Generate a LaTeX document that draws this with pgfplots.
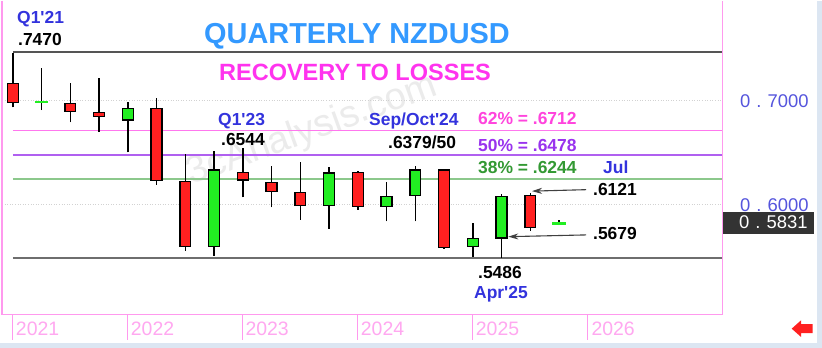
\documentclass[border=0pt]{standalone}
\usepackage{pgfplots}
\pgfplotsset{compat=1.18}
\usetikzlibrary{arrows.meta}
\usepackage{fontspec}
\setmainfont{Liberation Sans}
\definecolor{candred}{HTML}{FF2020}
\definecolor{candgreen}{HTML}{22EE22}
\definecolor{pinkax}{HTML}{FF99EE}
\definecolor{yearpink}{HTML}{FFA8F0}
\definecolor{titleblue}{HTML}{3399FF}
\definecolor{recmag}{HTML}{FF33EE}
\definecolor{lblblue}{HTML}{3333DD}
\definecolor{fibA}{HTML}{FF44DD}
\definecolor{fibB}{HTML}{9933EE}
\definecolor{fibC}{HTML}{339933}
\definecolor{lineA}{HTML}{FF77EE}
\definecolor{lineB}{HTML}{B060F0}
\definecolor{lineC}{HTML}{8CC88C}
\definecolor{darkline}{HTML}{555555}
\definecolor{axblue}{HTML}{5555DD}
\definecolor{stripblue}{HTML}{DCE6F2}
\newcommand{\lbl}{\fontsize{17.5}{20}\selectfont\bfseries}
\newcommand{\axl}{\fontsize{18.5}{20}\selectfont}
\newcommand{\yrl}{\fontsize{19.5}{21}\selectfont}
\newcommand{\q}{\textquotesingle}
\newcommand{\dt}{\hspace{6bp}.\hspace{6bp}}
\begin{document}
\begin{tikzpicture}
\begin{scope}[x=1bp,y=1bp]
\useasboundingbox (0,0) rectangle (822,347);
\fill[white] (0,0) rectangle (822,347);
\fill[stripblue] (817,0) rectangle (822,347);
\fill[stripblue] (0,0) rectangle (822,5);
\node[rotate=20, text=gray!16, font=\fontsize{38}{40}\selectfont] at (312,217) {3cAnalysis.com};
\end{scope}
\begin{axis}[
  at={(2bp,33bp)}, anchor=south west, scale only axis,
  width=720.5bp, height=314bp,
  xmin=-0.3757, xmax=24.685, ymin=0.494231, ymax=0.796154,
  axis line style={draw=none}, xtick=\empty, ytick=\empty, clip=false,
  wick/.style={black, line width=1.4bp},
  body/.style={draw=black, line width=1.4bp, line join=miter},
]
% reference lines
\addplot[gray!35, dotted, line width=0.6bp] coordinates {(-0.3757,0.70) (24.685,0.70)};
\addplot[gray!35, dotted, line width=0.6bp] coordinates {(-0.3757,0.60) (24.685,0.60)};
\addplot[darkline, line width=2.2bp] coordinates {(0,0.7470) (24.685,0.7470)};
\addplot[lineA, line width=1.4bp] coordinates {(0,0.6712) (24.685,0.6712)};
\addplot[lineB, line width=1.4bp] coordinates {(0,0.6478) (24.685,0.6478)};
\addplot[lineC, line width=1.6bp] coordinates {(0,0.6244) (24.685,0.6244)};
\addplot[darkline!85, line width=2bp] coordinates {(0,0.5486) (24.685,0.5486)};
% wicks (quarter index, low, high)
\addplot[wick] coordinates {(0,0.6936) (0,0.7462)};
\addplot[wick] coordinates {(1,0.6910) (1,0.7310)};
\addplot[wick] coordinates {(2,0.6790) (2,0.7170)};
\addplot[wick] coordinates {(3,0.6702) (3,0.7218)};
\addplot[wick] coordinates {(4,0.6503) (4,0.6990)};
\addplot[wick] coordinates {(5,0.6192) (5,0.7022)};
\addplot[wick] coordinates {(6,0.5558) (6,0.6487)};
\addplot[wick] coordinates {(7,0.5507) (7,0.6513)};
\addplot[wick] coordinates {(8,0.6070) (8,0.6540)};
\addplot[wick] coordinates {(9,0.5974) (9,0.6375)};
\addplot[wick] coordinates {(10,0.5853) (10,0.6408)};
\addplot[wick] coordinates {(11,0.5766) (11,0.6365)};
\addplot[wick] coordinates {(12,0.5952) (12,0.6327)};
\addplot[wick] coordinates {(13,0.5840) (13,0.6221)};
\addplot[wick] coordinates {(14,0.5840) (14,0.6375)};
\addplot[wick] coordinates {(15,0.5574) (15,0.6340)};
\addplot[wick] coordinates {(16,0.5500) (16,0.5824)};
\addplot[wick] coordinates {(17,0.5486) (17,0.6103)};
\addplot[wick] coordinates {(18,0.5750) (18,0.6115)};
\addplot[wick] coordinates {(19,0.5803) (19,0.5852)};
% bodies (open / close)
\addplot[body, fill=candred] coordinates {(-0.19,0.7166) (0.19,0.7166) (0.19,0.6984) (-0.19,0.6984)} -- cycle;
\addplot[candgreen, line width=2bp] coordinates {(0.77,0.6985) (1.23,0.6985)};
\addplot[body, fill=candred] coordinates {(1.81,0.6974) (2.19,0.6974) (2.19,0.6894) (1.81,0.6894)} -- cycle;
\addplot[body, fill=candred] coordinates {(2.81,0.6888) (3.19,0.6888) (3.19,0.6846) (2.81,0.6846)} -- cycle;
\addplot[body, fill=candgreen] coordinates {(3.81,0.6814) (4.19,0.6814) (4.19,0.6926) (3.81,0.6926)} -- cycle;
\addplot[body, fill=candred] coordinates {(4.81,0.6926) (5.19,0.6926) (5.19,0.6235) (4.81,0.6235)} -- cycle;
\addplot[body, fill=candred] coordinates {(5.81,0.6224) (6.19,0.6224) (6.19,0.5596) (5.81,0.5596)} -- cycle;
\addplot[body, fill=candgreen] coordinates {(6.81,0.5596) (7.19,0.5596) (7.19,0.6334) (6.81,0.6334)} -- cycle;
\addplot[body, fill=candred] coordinates {(7.81,0.6311) (8.19,0.6311) (8.19,0.6238) (7.81,0.6238)} -- cycle;
\addplot[body, fill=candred] coordinates {(8.81,0.6215) (9.19,0.6215) (9.19,0.6125) (8.81,0.6125)} -- cycle;
\addplot[body, fill=candred] coordinates {(9.81,0.6119) (10.19,0.6119) (10.19,0.5990) (9.81,0.5990)} -- cycle;
\addplot[body, fill=candgreen] coordinates {(10.81,0.5990) (11.19,0.5990) (11.19,0.6305) (10.81,0.6305)} -- cycle;
\addplot[body, fill=candred] coordinates {(11.81,0.6311) (12.19,0.6311) (12.19,0.5981) (11.81,0.5981)} -- cycle;
\addplot[body, fill=candgreen] coordinates {(12.81,0.5981) (13.19,0.5981) (13.19,0.6081) (12.81,0.6081)} -- cycle;
\addplot[body, fill=candgreen] coordinates {(13.81,0.6087) (14.19,0.6087) (14.19,0.6334) (13.81,0.6334)} -- cycle;
\addplot[body, fill=candred] coordinates {(14.81,0.6334) (15.19,0.6334) (15.19,0.5590) (14.81,0.5590)} -- cycle;
\addplot[body, fill=candgreen] coordinates {(15.81,0.5596) (16.19,0.5596) (16.19,0.5676) (15.81,0.5676)} -- cycle;
\addplot[body, fill=candgreen] coordinates {(16.81,0.5680) (17.19,0.5680) (17.19,0.6080) (16.81,0.6080)} -- cycle;
\addplot[body, fill=candred] coordinates {(17.81,0.6087) (18.19,0.6087) (18.19,0.5782) (17.81,0.5782)} -- cycle;
\addplot[draw=none, fill=candgreen] coordinates {(18.77,0.5803) (19.23,0.5803) (19.23,0.5830) (18.77,0.5830)} -- cycle;
% arrows
\draw[-{Stealth[length=10bp,width=6bp]}, black!75, line width=1.1bp] (axis cs:19.94,0.6144) -- (axis cs:18.06,0.6130);
\draw[-{Stealth[length=10bp,width=6bp]}, black!75, line width=1.1bp] (axis cs:19.94,0.5709) -- (axis cs:17.235,0.5692);
% frame
\draw[pinkax, line width=1.3bp] (rel axis cs:0,1) -- (rel axis cs:0,0) -- (rel axis cs:1,0) -- (rel axis cs:1,1);
\end{axis}
\begin{scope}[x=1bp,y=1bp]
% year ticks and labels
\foreach \tx/\xx/\yy in {12.8/15.8/2021,127.8/130.7/2022,242.8/245.3/2023,357.8/360.7/2024,472.8/475.7/2025,587.8/591.3/2026}{
  \draw[pinkax, line width=1bp] (\tx,33) -- (\tx,8);
  \node[anchor=base west, inner sep=0, text=yearpink, font=\yrl] at (\xx,12) {\yy};
}
% right axis labels
\node[anchor=base west, inner sep=0, text=axblue, font=\axl] at (740,239.7) {0\dt7000};
\node[anchor=base west, inner sep=0, text=axblue, font=\axl] at (740,136.5) {0\dt6000};
\fill[black!80] (723,114) rectangle (814,136);
\node[anchor=base west, inner sep=0, text=white, font=\axl] at (739,118.7) {0\dt5831};
% titles
\node[anchor=base, inner sep=0, text=titleblue, font=\fontsize{29}{32}\selectfont\bfseries] at (357,303.7) {QUARTERLY NZDUSD};
\node[anchor=base, inner sep=0, text=recmag, font=\fontsize{23.6}{26}\selectfont\bfseries] at (355,267) {RECOVERY TO LOSSES};
% annotations
\node[anchor=base west, inner sep=0, text=lblblue, font=\lbl] at (17,323.7) {Q1\q21};
\node[anchor=base west, inner sep=0, text=black, font=\lbl] at (18,302) {.7470};
\node[anchor=base west, inner sep=0, text=lblblue, font=\lbl] at (218,222.5) {Q1\q23};
\node[anchor=base west, inner sep=0, text=black, font=\lbl] at (221,202) {.6544};
\node[anchor=base west, inner sep=0, text=lblblue, font=\lbl] at (369,222) {Sep/Oct\q24};
\node[anchor=base west, inner sep=0, text=black, font=\lbl] at (388,198.7) {.6379/50};
\node[anchor=base west, inner sep=0, text=fibA, font=\lbl] at (478,223) {62\% = .6712};
\node[anchor=base west, inner sep=0, text=fibB, font=\lbl] at (478,196.5) {50\% = .6478};
\node[anchor=base west, inner sep=0, text=fibC, font=\lbl] at (478,173.7) {38\% = .6244};
\node[anchor=base west, inner sep=0, text=lblblue, font=\lbl] at (603,173.7) {Jul};
\node[anchor=base west, inner sep=0, text=black, font=\lbl] at (593,152) {.6121};
\node[anchor=base west, inner sep=0, text=black, font=\lbl] at (593,107.7) {.5679};
\node[anchor=base west, inner sep=0, text=black, font=\lbl] at (478,69.3) {.5486};
\node[anchor=base west, inner sep=0, text=lblblue, font=\lbl] at (474,49.5) {Apr\q25};
% red arrow
\fill[candred] (791.7,19) -- (801,27.3) -- (801,23.5) -- (812.7,23.5) -- (812.7,14.5) -- (801,14.5) -- (801,10.7) -- cycle;
\end{scope}
\end{tikzpicture}
\end{document}
